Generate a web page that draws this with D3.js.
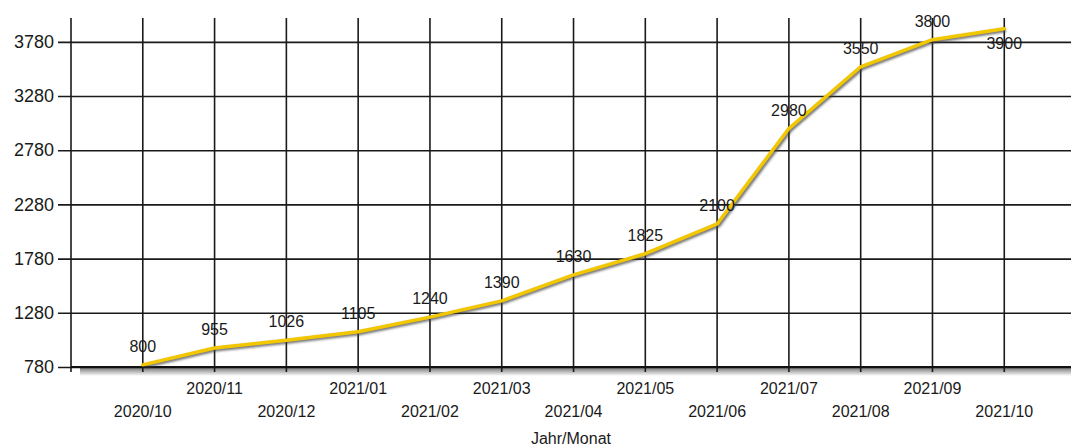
<!DOCTYPE html>
<html>
<head>
<meta charset="utf-8">
<script src="https://cdn.jsdelivr.net/npm/d3@7"></script>
<style>
  body { margin: 0; background: #fff; }
  svg text { font-family: "Liberation Sans", Arial, sans-serif; fill: #1a1a1a; }
</style>
</head>
<body>
<svg id="chart" width="1071" height="447"></svg>
<script>
const months = ["2020/10","2020/11","2020/12","2021/01","2021/02","2021/03","2021/04",
                "2021/05","2021/06","2021/07","2021/08","2021/09","2021/10"]
const values = [800, 955, 1026, 1105, 1240, 1390, 1630, 1825, 2100, 2980, 3550, 3800, 3900]
const yTicks = [780, 1280, 1780, 2280, 2780, 3280, 3780]
const xTitle = "Jahr/Monat"

const W = 1071, plotLeft = 71, plotTop = 18, plotBottom = 367
let svg = d3.select("#chart")

// index 1..13 for the months, plot runs from 0 to 14
let xScale = d3.scaleLinear().domain([0, 14]).range([plotLeft, plotLeft + 14 * 71.79])
let yScale = d3.scaleLinear().domain([780, 4000]).range([plotBottom, plotTop])

// shadow under the x axis
let defs = svg.append("defs")
let grad = defs.append("linearGradient").attr("id", "axshadow")
    .attr("x1", 0).attr("y1", 0).attr("x2", 0).attr("y2", 1)
grad.append("stop").attr("offset", "0%").attr("stop-color", "#6e6e6e")
grad.append("stop").attr("offset", "100%").attr("stop-color", "#ffffff")
svg.append("rect").attr("x", plotLeft + 9).attr("y", plotBottom).attr("width", W - plotLeft - 9).attr("height", 9)
    .attr("fill", "url(#axshadow)")

let lineShadow = defs.append("filter").attr("id", "blur")
lineShadow.append("feGaussianBlur").attr("stdDeviation", 1)

// horizontal grid + y axis
let y_axis = d3.axisLeft(yScale).tickValues(yTicks).tickFormat(d3.format("d"))
    .tickSize(-(W - plotLeft)).tickPadding(6)
let gy = svg.append("g").attr("transform", `translate(${plotLeft},0)`).call(y_axis)
gy.select(".domain").remove()
gy.selectAll(".tick line").attr("stroke", "#1a1a1a").attr("stroke-width", 1.6).attr("x1", -13)
gy.selectAll(".tick text").attr("font-size", 18).attr("x", -17).style("fill", "#1a1a1a")
    .style("font-family", "'Liberation Sans', Arial, sans-serif")

// vertical grid lines
let xIdx = months.map((d, i) => i + 1)
svg.append("line").attr("x1", plotLeft).attr("x2", plotLeft).attr("y1", plotTop).attr("y2", plotBottom + 5)
    .attr("stroke", "#1a1a1a").attr("stroke-width", 1.6)
svg.selectAll(".vgrid").data(xIdx).enter().append("line")
    .attr("class", "vgrid")
    .attr("x1", d => xScale(d)).attr("x2", d => xScale(d))
    .attr("y1", plotTop).attr("y2", plotBottom + 5)
    .attr("stroke", "#1a1a1a").attr("stroke-width", 1.6)

// x axis line
svg.append("line").attr("x1", plotLeft).attr("x2", W).attr("y1", plotBottom).attr("y2", plotBottom)
    .attr("stroke", "#111").attr("stroke-width", 2)

// staggered month labels
svg.selectAll(".xlab").data(months).enter().append("text")
    .attr("class", "xlab")
    .attr("x", (d, i) => xScale(i + 1))
    .attr("y", (d, i) => i % 2 === 1 ? 394 : 417)
    .attr("text-anchor", "middle")
    .attr("font-size", 16)
    .text(d => d)

svg.append("text").attr("x", (plotLeft + W) / 2).attr("y", 444)
    .attr("text-anchor", "middle").attr("font-size", 16).text(xTitle)

// the line
let line = d3.line().x((d, i) => xScale(i + 1)).y(d => yScale(d))
svg.append("path").datum(values).attr("d", line)
    .attr("fill", "none").attr("stroke", "#404040").attr("stroke-opacity", 0.7)
    .attr("stroke-width", 4).attr("stroke-linejoin", "round")
    .attr("transform", "translate(1.5,1.5)").attr("filter", "url(#blur)")
svg.append("path").datum(values).attr("d", line)
    .attr("fill", "none").attr("stroke", "#f2c700")
    .attr("stroke-width", 3.5).attr("stroke-linejoin", "round").attr("stroke-linecap", "round")

// value labels, pushed below the point when no room above
svg.selectAll(".vlab").data(values).enter().append("text")
    .attr("class", "vlab")
    .attr("x", (d, i) => xScale(i + 1))
    .attr("y", d => {
        let y = yScale(d)
        return (y - 19 < 16 ? y + 14 : y - 19) + 6
    })
    .attr("text-anchor", "middle")
    .attr("font-size", 16)
    .text(d => d)
</script>
</body>
</html>
